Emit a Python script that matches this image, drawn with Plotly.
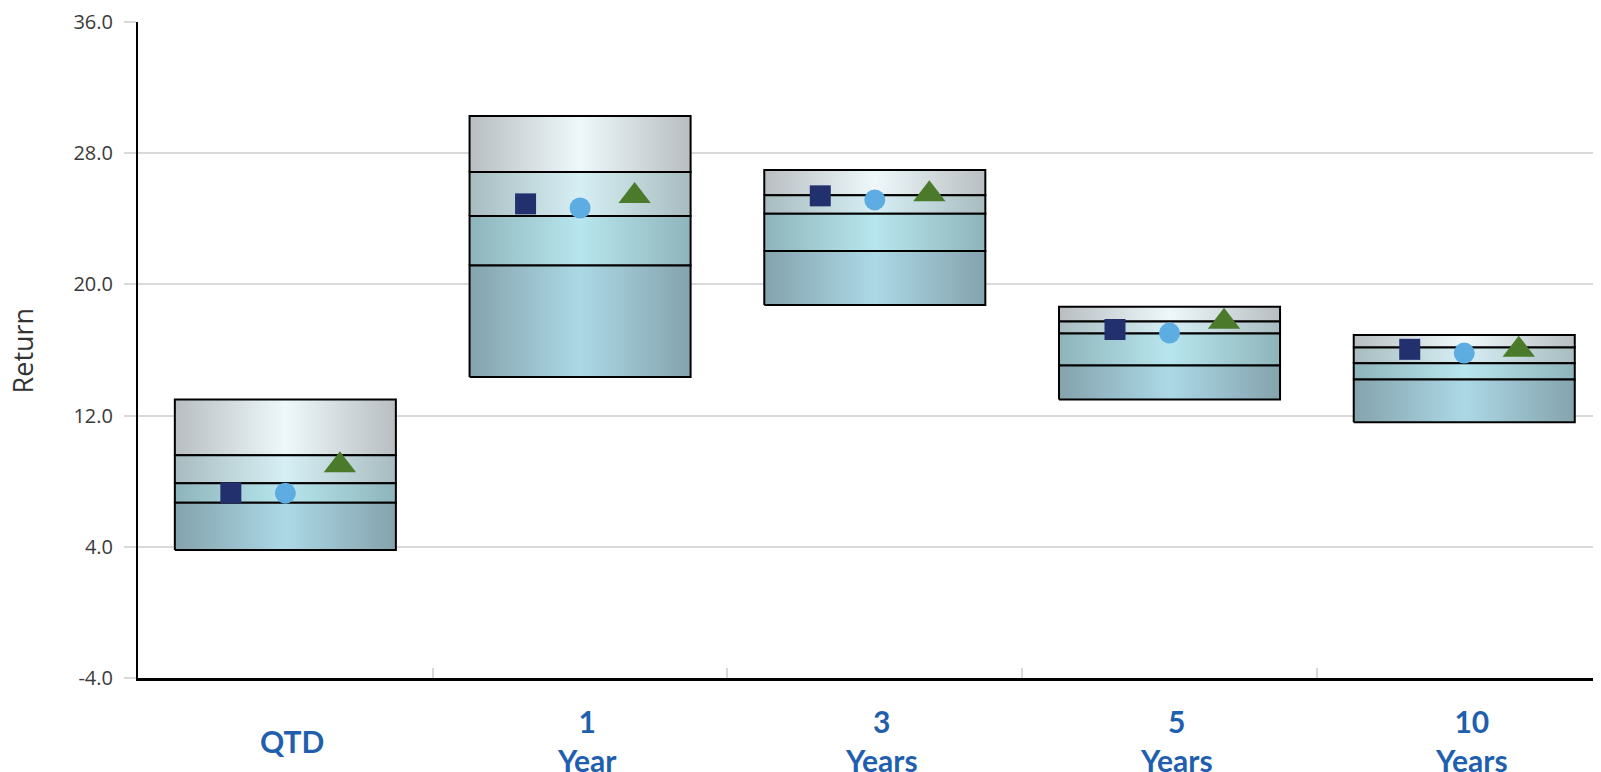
import plotly.graph_objects as go

categories = ['QTD', '1<br>Year', '3<br>Years', '5<br>Years', '10<br>Years']

# percentile edges of each floating box, top to bottom
p5 = [12.98, 30.27, 26.97, 18.64, 16.92]
p25 = [9.58, 26.85, 25.43, 17.74, 16.16]
p50 = [7.88, 24.17, 24.31, 17.01, 15.19]
p75 = [6.68, 21.15, 22.04, 15.05, 14.20]
p95 = [3.81, 14.36, 18.74, 12.98, 11.59]

square_vals = [7.29, 24.91, 25.40, 17.25, 16.04]
circle_vals = [7.27, 24.66, 25.15, 17.03, 15.81]
triangle_vals = [8.97, 25.39, 25.49, 17.73, 16.02]

yticks = [36, 28, 20, 12, 4, -4]
ytick_text = ['36.0', '28.0', '20.0', '12.0', '4.0', '-4.0']

# horizontal shading of the four bands (edge, centre)
band_colors = [
    ('#b8bec1', '#eef8fb'),
    ('#a8bcc0', '#d6eff4'),
    ('#8eb4ba', '#b8e6ee'),
    ('#84a3ad', '#acd8e6'),
]

half = 0.375
offset = 0.185

fig = go.Figure()

edges = [p5, p25, p50, p75, p95]
for i in range(len(categories)):
    for b in range(4):
        hi = edges[b][i]
        lo = edges[b + 1][i]
        edge, centre = band_colors[b]
        fig.add_trace(go.Scatter(
            x=[i - half, i + half, i + half, i - half, i - half],
            y=[lo, lo, hi, hi, lo],
            mode='lines', fill='toself',
            fillgradient=dict(type='horizontal',
                              colorscale=[[0, edge], [0.5, centre], [1, edge]]),
            line=dict(color='black', width=2),
            hoverinfo='skip', showlegend=False))

xs = list(range(len(categories)))
fig.add_trace(go.Scatter(x=[x - offset for x in xs], y=square_vals, mode='markers',
                         marker=dict(symbol='square', size=21, color='#22306e'),
                         name='Square', showlegend=False))
fig.add_trace(go.Scatter(x=xs, y=circle_vals, mode='markers',
                         marker=dict(symbol='circle', size=21, color='#5dade2'),
                         name='Circle', showlegend=False))
fig.add_trace(go.Scatter(x=[x + offset for x in xs], y=triangle_vals, mode='markers',
                         marker=dict(symbol='triangle-up', size=28, color='#4a7a2a'),
                         name='Triangle', showlegend=False))

for i, c in enumerate(categories):
    fig.add_annotation(x=i, xref='x', y=-0.0957, yref='paper', text='<b>%s</b>' % c,
                       showarrow=False, yanchor='middle', xanchor='center', xshift=7,
                       font=dict(family='Lato', size=30, color='#1f5fad'))

fig.add_annotation(x=-0.079, xref='paper', y=0.5, yref='paper', text='Return',
                   textangle=-90, showarrow=False, xanchor='center', yanchor='middle',
                   font=dict(family='Open Sans', size=27, color='#333333'))

fig.update_layout(
    width=1593, height=764,
    margin=dict(l=130, r=0, t=12, b=94),
    plot_bgcolor='white', paper_bgcolor='white',
    font=dict(family='Open Sans', color='#3a3a3a'),
    showlegend=False,
)
fig.update_xaxes(range=[-0.5, 4.464], tickvals=[0.5, 1.5, 2.5, 3.5], showticklabels=False,
                 ticks='inside', ticklen=10, tickcolor='#d9d9d9', tickwidth=1.5,
                 showgrid=False, zeroline=False,
                 showline=True, linecolor='black', linewidth=2.5)
fig.update_yaxes(range=[-4, 36], tickvals=yticks, ticktext=ytick_text,
                 tickfont=dict(family='Open Sans', size=20, color='#3a3a3a'),
                 ticks='outside', ticklen=12, tickcolor='#d9d9d9', tickwidth=1.5,
                 ticklabelstandoff=7, ticklabeloverflow='allow',
                 showgrid=True, gridcolor='#d9d9d9', gridwidth=1.5, zeroline=False,
                 showline=True, linecolor='black', linewidth=2)

fig.write_html('out.html')
